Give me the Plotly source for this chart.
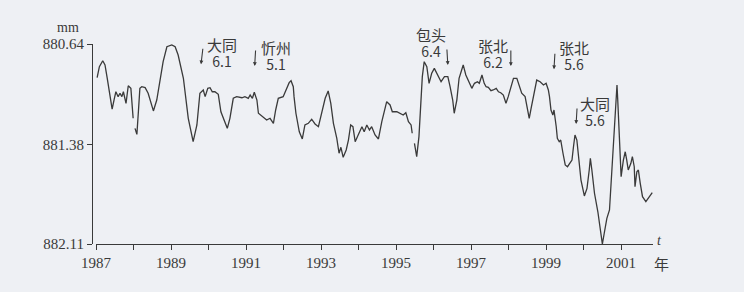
import plotly.graph_objects as go

# ---- data ----
years = [1987.03, 1987.09, 1987.18, 1987.24, 1987.30, 1987.37, 1987.43, 1987.49, 1987.53, 1987.59,
         1987.64, 1987.69, 1987.73, 1987.80, 1987.86, 1987.93, 1987.95, 1987.99, 1988.02, 1988.04,
         1988.09, 1988.13, 1988.17, 1988.22, 1988.31, 1988.39, 1988.53, 1988.62, 1988.71, 1988.79,
         1988.89, 1989.02, 1989.11, 1989.19, 1989.33, 1989.46, 1989.59, 1989.69, 1989.77, 1989.86,
         1989.91, 1989.98, 1990.04, 1990.10, 1990.17, 1990.26, 1990.33, 1990.42, 1990.50, 1990.57,
         1990.66, 1990.75, 1990.89, 1990.97, 1991.06, 1991.11, 1991.17, 1991.22, 1991.29, 1991.33,
         1991.43, 1991.55, 1991.64, 1991.73, 1991.79, 1991.86, 1991.99, 1992.09, 1992.15, 1992.20,
         1992.26, 1992.28, 1992.33, 1992.42, 1992.50, 1992.57, 1992.66, 1992.75, 1992.84, 1992.93,
         1993.02, 1993.11, 1993.19, 1993.26, 1993.33, 1993.42, 1993.48, 1993.53, 1993.59, 1993.67,
         1993.73, 1993.79, 1993.85, 1993.91, 1993.99, 1994.09, 1994.15, 1994.22, 1994.29, 1994.35,
         1994.44, 1994.53, 1994.62, 1994.69, 1994.75, 1994.84, 1994.90, 1995.02, 1995.11, 1995.19,
         1995.26, 1995.33, 1995.40, 1995.43, 1995.46, 1995.49, 1995.55, 1995.61, 1995.67, 1995.70,
         1995.75, 1995.82, 1995.88, 1995.95, 1996.02, 1996.11, 1996.20, 1996.29, 1996.38, 1996.44,
         1996.51, 1996.55, 1996.62, 1996.68, 1996.75, 1996.79, 1996.86, 1996.93, 1997.02, 1997.09,
         1997.17, 1997.22, 1997.29, 1997.35, 1997.40, 1997.46, 1997.53, 1997.59, 1997.67, 1997.73,
         1997.79, 1997.86, 1997.93, 1997.99, 1998.06, 1998.13, 1998.22, 1998.29, 1998.35, 1998.44,
         1998.50, 1998.55, 1998.60, 1998.65, 1998.71, 1998.75, 1998.84, 1998.93, 1999.00, 1999.06,
         1999.09, 1999.13, 1999.18, 1999.21, 1999.27, 1999.30, 1999.35, 1999.39, 1999.45, 1999.51,
         1999.57, 1999.69, 1999.73, 1999.77, 1999.82, 1999.86, 1999.93, 2000.02, 2000.09, 2000.15,
         2000.18, 2000.22, 2000.29, 2000.38, 2000.44, 2000.50, 2000.55, 2000.62, 2000.69, 2000.73,
         2000.78, 2000.82, 2000.86, 2000.89, 2000.91, 2000.95, 2001.00, 2001.06, 2001.11, 2001.15,
         2001.19, 2001.26, 2001.30, 2001.35, 2001.37, 2001.42, 2001.46, 2001.51, 2001.57, 2001.66,
         2001.73, 2001.83]

level_mm = [880.888, 880.807, 880.763, 880.794, 880.892, 881.015, 881.118, 881.039, 880.991, 881.027,
            881.002, 881.027, 880.991, 881.076, 880.947, 880.966, 881.039, 881.186, None, 881.260,
            881.304, 881.138, 880.966, 880.954, 880.961, 881.002, 881.132, 881.052, 880.917, 880.770,
            880.660, 880.647, 880.660, 880.721, 880.892, 881.186, 881.358, 881.235, 881.002, 880.978,
            881.027, 880.966, 880.961, 880.991, 880.991, 881.010, 881.138, 881.211, 881.260, 881.186,
            881.039, 881.027, 881.035, 881.027, 881.039, 881.015, 881.039, 880.995, 881.052, 881.149,
            881.174, 881.199, 881.186, 881.223, 881.125, 881.039, 881.027, 880.954, 880.924, 880.910,
            880.954, 881.027, 881.149, 881.285, 881.338, 881.235, 881.223, 881.193, 881.228, 881.248,
            881.149, 881.039, 880.985, 881.076, 881.223, 881.333, 881.443, 881.399, 881.473, 881.419,
            881.346, 881.235, 881.248, 881.358, 881.309, 881.248, 881.285, 881.235, 881.272, 881.248,
            881.309, 881.338, 881.211, 881.125, 881.064, 881.088, 881.138, 881.138, 881.149, 881.162,
            881.145, 881.211, 881.235, 881.296, None, 881.370, 881.468, 881.321, 881.052, 880.880,
            880.770, 880.807, 880.929, 880.855, 880.819, 880.868, 880.917, 880.880, 880.880, 880.954,
            881.052, 881.149, 881.052, 880.892, 880.819, 880.794, 880.868, 880.917, 880.966, 880.929,
            880.917, 880.929, 880.868, 880.929, 880.954, 880.958, 880.983, 880.978, 880.966, 880.991,
            880.998, 881.015, 881.076, 881.027, 880.966, 880.892, 880.892, 880.954, 881.002, 881.027,
            881.101, 881.186, 881.113, 881.052, 880.978, 880.905, 880.917, 880.941, 880.929, 880.978,
            881.027, 881.125, 881.162, 881.125, 881.248, 881.333, 881.358, 881.346, 881.443, 881.529,
            881.542, 881.493, 881.395, 881.309, 881.346, 881.468, 881.640, 881.757, 881.701, 881.566,
            881.480, 881.566, 881.737, 881.873, 881.983, 882.110, 882.031, 881.921, 881.860, 881.664,
            881.443, 881.223, 881.076, 880.941, 881.052, 881.321, 881.615, 881.493, 881.432, 881.493,
            881.566, 881.517, 881.468, 881.542, 881.689, 881.579, 881.566, 881.664, 881.762, 881.799,
            881.774, 881.733]

y_ticks = [880.64, 881.38, 882.11]
x_tick_years = list(range(1987, 2002))
x_tick_text = [str(y) if y % 2 == 1 else "" for y in x_tick_years]

# earthquakes: place, magnitude, time (year)
eq_place = ["大同", "忻州", "包头", "张北", "张北", "大同"]
eq_mag = ["6.1", "5.1", "6.4", "6.2", "5.6", "5.6"]
eq_year = [1989.80, 1991.23, 1996.38, 1998.06, 1999.21, 1999.80]
eq_tip_mm = [880.789, 880.802, 880.794, 880.802, 880.826, 881.228]

# label placement (pixels) relative to arrow tip: (label dx, label dy, arrow tail dx)
eq_offsets = [(21, 11.5, 2), (21, 10.5, 1), (-16.5, 22, -1),
              (-17.5, 12.5, 0), (20, 13.5, 1), (18.5, 12, 1)]

BG = "#eef0f4"
INK = "#3a3a3a"
SERIF = "'Liberation Serif', 'Times New Roman', serif"
CJK = "'Noto Sans CJK SC', 'Noto Sans', sans-serif"

fig = go.Figure()
fig.add_trace(go.Scatter(x=years, y=level_mm, mode="lines",
                         line=dict(color=INK, width=1.3), connectgaps=False,
                         hoverinfo="skip", showlegend=False))

W, H = 744, 292
fig.update_layout(
    width=W, height=H, margin=dict(l=0, r=0, t=0, b=0, autoexpand=False),
    paper_bgcolor=BG, plot_bgcolor=BG, showlegend=False,
    xaxis=dict(domain=[96 / W, 653 / W], range=[1987, 2001.85], automargin=False,
               showgrid=False, zeroline=False, showline=True, linecolor=INK, linewidth=1.2,
               tickmode="array", tickvals=x_tick_years, ticktext=x_tick_text,
               ticks="outside", ticklen=5, tickwidth=1.2, tickcolor=INK,
               tickfont=dict(family=SERIF, size=15, color=INK)),
    yaxis=dict(domain=[1 - 244 / H, 1 - 44 / H], range=[882.11, 880.64], automargin=False,
               anchor="free", position=92 / W,
               showgrid=False, zeroline=False, showline=True, linecolor=INK, linewidth=1.2,
               tickmode="array", tickvals=y_ticks, ticktext=[f"{v:.2f}" for v in y_ticks],
               ticks="outside", ticklen=5, tickwidth=1.2, tickcolor=INK,
               tickfont=dict(family=SERIF, size=15, color=INK)),
)

for place, mag, yr, tip, off in zip(eq_place, eq_mag, eq_year, eq_tip_mm, eq_offsets):
    dx, dy, tdx = off
    fig.add_annotation(x=yr, y=tip, xref="x", yref="y", text="", showarrow=True,
                       ax=tdx, ay=-17, arrowhead=2, arrowsize=0.7, arrowwidth=1.1,
                       arrowcolor=INK)
    label = (f"<span style='font-size:15px'>{place}</span><br>"
             f"<span style='font-size:14px'>{mag}</span>")
    fig.add_annotation(x=yr, y=tip, xref="x", yref="y", text=label, showarrow=False,
                       xanchor="center", yanchor="middle", align="center",
                       xshift=dx, yshift=dy, font=dict(family=CJK, size=12.5, color=INK))

# axis titles / units
fig.add_annotation(x=68 / W, y=1 - 28 / H, xref="paper", yref="paper", text="mm",
                   xanchor="center", yanchor="middle",
                   showarrow=False, font=dict(family=SERIF, size=14, color=INK))
fig.add_annotation(x=659 / W, y=1 - 240 / H, xref="paper", yref="paper", text="<i>t</i>",
                   xanchor="center", yanchor="middle",
                   showarrow=False, font=dict(family=SERIF, size=14, color=INK))
fig.add_annotation(x=661 / W, y=1 - 263 / H, xref="paper", yref="paper", text="年",
                   xanchor="center", yanchor="middle",
                   showarrow=False, font=dict(family=CJK, size=15, color=INK))

fig.write_html("out.html")
